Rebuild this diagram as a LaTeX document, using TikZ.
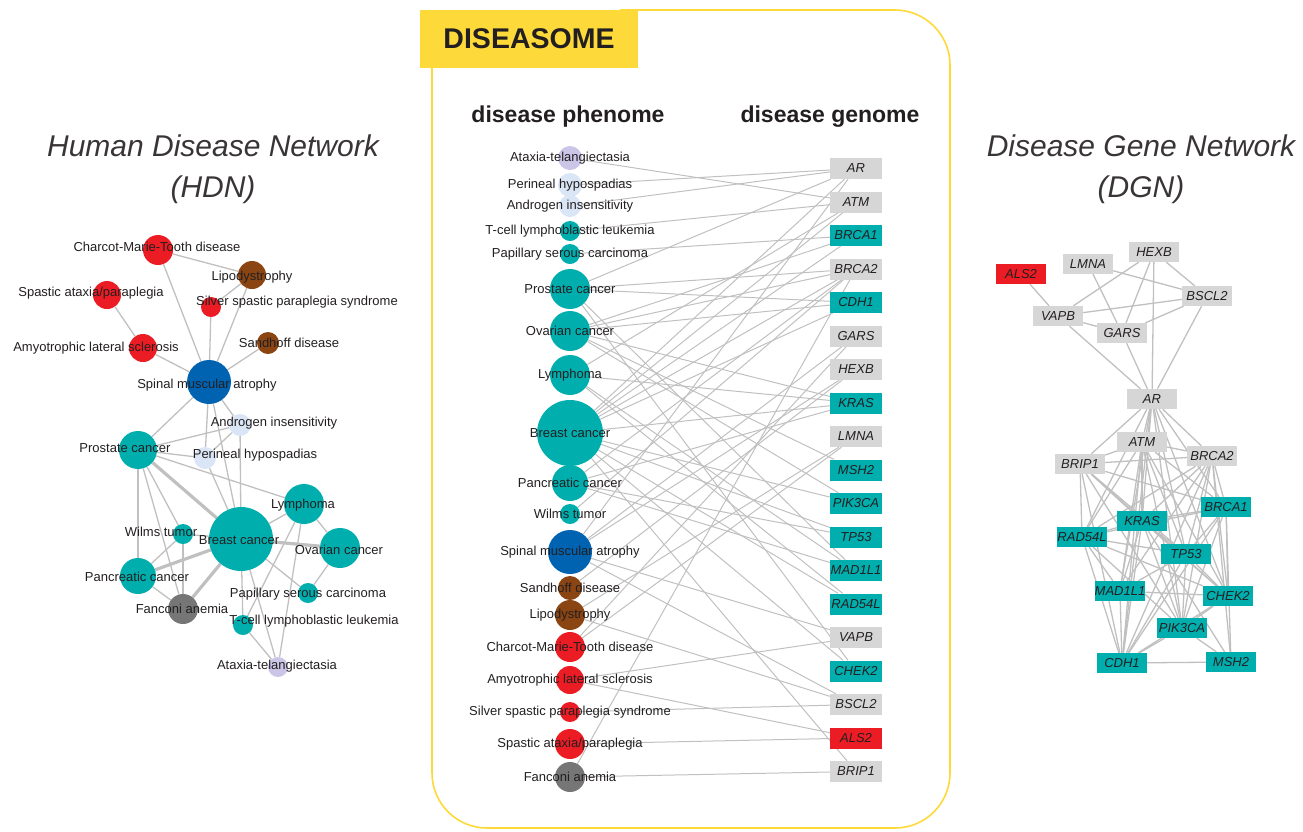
\documentclass[tikz,border=0pt]{standalone}
\usepackage{fontspec}
\setmainfont{Liberation Sans}
\usetikzlibrary{backgrounds}
\definecolor{tl}{RGB}{0,174,174}
\definecolor{rd}{RGB}{236,28,36}
\definecolor{bl}{RGB}{0,99,178}
\definecolor{br}{RGB}{139,69,19}
\definecolor{gy}{RGB}{118,118,118}
\definecolor{lv}{RGB}{203,198,232}
\definecolor{lb}{RGB}{218,230,246}
\definecolor{gbx}{RGB}{214,214,214}
\definecolor{eg}{RGB}{192,192,192}
\definecolor{yel}{RGB}{253,218,58}
\definecolor{txt}{RGB}{35,31,32}
\begin{document}
\begin{tikzpicture}[x=1pt,y=-1pt,
  dc/.style 2 args={circle,fill=#1,minimum size=#2,inner sep=0pt,draw=none},
  lbl/.style={font=\fontsize{13}{13}\selectfont,text=txt,inner sep=0pt},
  gb/.style={fill=#1,minimum width=52pt,minimum height=21pt,inner sep=0pt,font=\fontsize{13}{13}\selectfont\itshape,text=txt},
  db/.style={fill=#1,minimum width=50pt,minimum height=20pt,inner sep=0pt,font=\fontsize{13}{13}\selectfont\itshape,text=txt},
  edge/.style={draw=eg,line width=1pt},
  hedge/.style={draw=eg,line width=1.3pt},
  thk/.style={draw=eg,line width=3.2pt},
  ttl/.style={font=\fontsize{30}{30}\selectfont\itshape,text=txt!90},
  hdr/.style={font=\fontsize{23}{23}\selectfont\bfseries,text=txt}
]
\useasboundingbox (0,0) rectangle (1303,831);

% ---------- Titles ----------
\node[ttl] (t1) at (213,146) {Human Disease Network};
\node[ttl] (t2) at (213,190) {(HDN)};
\node[ttl] (t3) at (1141,146) {Disease Gene Network};
\node[ttl] (t4) at (1141,190) {(DGN)};

% ---------- Diseasome frame ----------
\draw[yel,line width=1.6pt,rounded corners=55pt] (432,68) -- (432,828) -- (950,828) -- (950,10) -- (620,10);
\node[fill=yel,minimum width=218pt,minimum height=58pt,inner sep=0pt,font=\fontsize{28.5}{28.5}\selectfont\bfseries,text=txt] (tag) at (529,39) {DISEASOME};
\node[hdr] (hp) at (568,117) {disease phenome};
\node[hdr] (hg) at (830,117) {disease genome};

% ---------- HDN ----------
\foreach \n/\x/\y/\r/\c in {CMT/158/250/30/rd, Lipo/252/275/28/br, Spas/107/295/28/rd, Silv/211/307/20/rd,
  ALS/143/348/28/rd, Sand/268/343/22/br, SMA/209/382/44/bl, Andr/240/425/22/lb, Pros/138/450/38/tl,
  Peri/205/458/22/lb, Lymph/304/504/40/tl, Breast/241/539/64/tl, Wilms/183/534/20/tl, Ovar/340/548/40/tl,
  Panc/138/576/36/tl, Pap/308/593/20/tl, Fanc/183/609/30/gy, Tcell/243/625/20/tl, Atax/278/667/20/lv}
  \node[dc={\c}{\r pt}] (h\n) at (\x,\y) {};

\foreach \n/\x/\y/\t in {CMT/157/247/Charcot-Marie-Tooth disease, Lipo/252/277/Lipodystrophy,
  Spas/91/293/Spastic ataxia\slash paraplegia, Silv/297/302/Silver spastic paraplegia syndrome,
  ALS/96/348/Amyotrophic lateral sclerosis, Sand/289/343/Sandhoff disease, SMA/207/385/Spinal muscular atrophy,
  Andr/274/423/Androgen insensitivity, Pros/125/448/Prostate cancer, Peri/255/455/Perineal hypospadias,
  Lymph/303/505/Lymphoma, Breast/239/540/Breast cancer, Wilms/161/532/Wilms tumor, Ovar/339/550/Ovarian cancer,
  Panc/137/577/Pancreatic cancer, Pap/308/594/Papillary serous carcinoma, Fanc/182/609/Fanconi anemia,
  Tcell/314/621/T-cell lymphoblastic leukemia, Atax/277/666/Ataxia-telangiectasia}
  \node[lbl] (hl\n) at (\x,\y) {\t};

\begin{scope}[on background layer]
\foreach \a/\b in {CMT/Lipo, CMT/SMA, Spas/ALS, ALS/SMA, Silv/Lipo, Silv/SMA, Lipo/SMA, Sand/SMA,
  SMA/Pros, SMA/Andr, SMA/Peri, SMA/Breast, Andr/Pros, Andr/Peri, Andr/Breast, Pros/Peri, Pros/Lymph,
  Pros/Panc, Pros/Wilms, Pros/Fanc, Peri/Breast, Breast/Lymph, Breast/Wilms, Breast/Pap, Breast/Tcell,
  Breast/Atax, Lymph/Ovar, Lymph/Tcell, Lymph/Atax, Ovar/Pap, Panc/Wilms, Panc/Fanc, Wilms/Fanc, Tcell/Atax}
  \draw[hedge] (h\a) -- (h\b);
\foreach \a/\b in {Pros/Breast, Breast/Ovar, Breast/Panc, Breast/Fanc}
  \draw[thk] (h\a) -- (h\b);
\end{scope}

% ---------- Bipartite: diseases ----------
\foreach \n/\y/\r/\c in {Atax/158/24/lv, Peri/185/24/lb, Andr/206/22/lb, Tcell/231/20/tl, Pap/254/20/tl,
  Pros/289/40/tl, Ovar/331/40/tl, Lymph/375/40/tl, Breast/433/66/tl, Panc/483/36/tl, Wilms/514/20/tl,
  SMA/552/44/bl, Sand/588/24/br, Lipo/615/30/br, CMT/647/30/rd, ALS/680/28/rd, Silv/712/20/rd,
  Spas/744/30/rd, Fanc/777/30/gy}
  \node[dc={\c}{\r pt}] (m\n) at (570,\y) {};

\foreach \n/\y/\t in {Atax/158/Ataxia-telangiectasia, Peri/185/Perineal hypospadias, Andr/206/Androgen insensitivity,
  Tcell/231/T-cell lymphoblastic leukemia, Pap/254/Papillary serous carcinoma, Pros/289/Prostate cancer,
  Ovar/331/Ovarian cancer, Lymph/375/Lymphoma, Breast/433/Breast cancer, Panc/483/Pancreatic cancer,
  Wilms/514/Wilms tumor, SMA/552/Spinal muscular atrophy, Sand/588/Sandhoff disease, Lipo/615/Lipodystrophy,
  CMT/647/Charcot-Marie-Tooth disease, ALS/680/Amyotrophic lateral sclerosis,
  Silv/712/Silver spastic paraplegia syndrome, Spas/744/Spastic ataxia\slash paraplegia, Fanc/777/Fanconi anemia}
  \node[lbl] (ml\n) at (570,\y) {\t};

% ---------- Bipartite: genes ----------
\foreach \g/\c [count=\i from 0] in {AR/gbx, ATM/gbx, BRCA1/tl, BRCA2/gbx, CDH1/tl, GARS/gbx, HEXB/gbx,
  KRAS/tl, LMNA/gbx, MSH2/tl, PIK3CA/tl, TP53/tl, MAD1L1/tl, RAD54L/tl, VAPB/gbx, CHEK2/tl, BSCL2/gbx,
  ALS2/rd, BRIP1/gbx}
  \node[gb=\c] (g\g) at (856,{168.5+33.5*\i}) {\g};

\begin{scope}[on background layer]
\foreach \d/\g in {Atax/ATM, Peri/AR, Andr/AR, Tcell/ATM, Pap/BRCA1,
  Pros/AR, Pros/BRCA2, Pros/CHEK2, Pros/MAD1L1, Pros/CDH1,
  Ovar/BRCA1, Ovar/BRCA2, Ovar/CDH1, Ovar/KRAS, Ovar/MSH2, Ovar/PIK3CA,
  Lymph/ATM, Lymph/KRAS, Lymph/MAD1L1, Lymph/RAD54L,
  Breast/AR, Breast/ATM, Breast/BRCA1, Breast/BRCA2, Breast/BRIP1, Breast/CDH1, Breast/CHEK2,
  Breast/KRAS, Breast/PIK3CA, Breast/RAD54L, Breast/TP53,
  Panc/BRCA2, Panc/KRAS, Panc/TP53, Panc/MAD1L1, Wilms/BRCA2,
  SMA/AR, SMA/VAPB, SMA/GARS, SMA/HEXB, SMA/BSCL2, Sand/HEXB, Lipo/LMNA, Lipo/BSCL2,
  CMT/LMNA, CMT/GARS, ALS/VAPB, ALS/ALS2, Silv/BSCL2, Spas/ALS2, Fanc/BRCA2, Fanc/BRIP1}
  \draw[edge] (m\d) -- (g\g);
\end{scope}

% ---------- DGN ----------
\foreach \g/\x/\y/\c in {ALS2/1021/274/rd, LMNA/1088/264/gbx, HEXB/1154/252/gbx, BSCL2/1207/296/gbx,
  VAPB/1058/316/gbx, GARS/1122/333/gbx, AR/1152/399/gbx, ATM/1142/442/gbx, BRIP1/1080/464/gbx,
  BRCA2/1212/456/gbx, BRCA1/1226/507/tl, KRAS/1142/521/tl, RAD54L/1082/537/tl, TP53/1186/554/tl,
  MAD1L1/1120/591/tl, CHEK2/1228/596/tl, PIK3CA/1182/628/tl, CDH1/1122/663/tl, MSH2/1231/662/tl}
  \node[db=\c] (n\g) at (\x,\y) {\g};

\begin{scope}[on background layer]
\foreach \a/\b in {ALS2/VAPB, LMNA/GARS, LMNA/BSCL2, HEXB/VAPB, HEXB/GARS, HEXB/BSCL2, HEXB/AR,
  VAPB/BSCL2, VAPB/GARS, VAPB/AR, GARS/BSCL2, GARS/AR, BSCL2/AR,
  MSH2/BRCA1, MSH2/BRCA2, MSH2/CDH1, MSH2/KRAS, MSH2/PIK3CA,
  MAD1L1/AR, MAD1L1/BRCA2, MAD1L1/CHEK2, MAD1L1/CDH1, MAD1L1/ATM, MAD1L1/KRAS, MAD1L1/RAD54L, MAD1L1/TP53}
  \draw[hedge] (n\a) -- (n\b);
\foreach \a [count=\i] in {AR,ATM,BRCA1,BRCA2,BRIP1,CDH1,CHEK2,KRAS,PIK3CA,RAD54L,TP53}{
  \foreach \b [count=\j] in {AR,ATM,BRCA1,BRCA2,BRIP1,CDH1,CHEK2,KRAS,PIK3CA,RAD54L,TP53}{
    \ifnum\j>\i \draw[hedge] (n\a) -- (n\b);\fi
  }
}
\end{scope}
\end{tikzpicture}
\end{document}
